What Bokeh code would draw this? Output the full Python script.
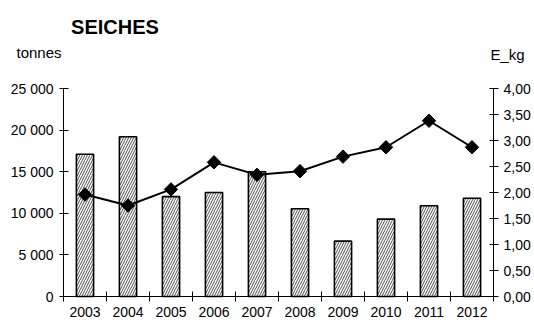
import math
from bokeh.plotting import figure
from bokeh.models import (Range1d, LinearAxis, FixedTicker, Label, ColumnDataSource)
from bokeh.embed import file_html
from bokeh.resources import INLINE

# ---- data ----
years = [2003, 2004, 2005, 2006, 2007, 2008, 2009, 2010, 2011, 2012]
tonnes = [17100, 19200, 12000, 12500, 15000, 10550, 6650, 9300, 10900, 11800]
e_kg = [1.96, 1.75, 2.06, 2.58, 2.34, 2.41, 2.69, 2.87, 3.38, 2.87]
left_ticks = [0, 5000, 10000, 15000, 20000, 25000]
left_labels = ["0", "5 000", "10 000", "15 000", "20 000", "25 000"]
right_ticks = [0, 0.5, 1.0, 1.5, 2.0, 2.5, 3.0, 3.5, 4.0]
right_labels = ["0,00", "0,50", "1,00", "1,50", "2,00", "2,50", "3,00", "3,50", "4,00"]
title_text = "SEICHES"
left_unit = "tonnes"
right_unit = "E_kg"

FONT = "Liberation Sans"
W, H = 534, 322
# plot area in pixels (axes drawn at fixed locations inside a full-canvas frame)
PX_L, PX_R, PX_T, PX_B = 63, 493, 88, 296
n = len(years)
Y_MAX = 25000
R_MAX = 4.0

xs = [i + 0.5 for i in range(n)]
xpp = n / (PX_R - PX_L)
ypp = Y_MAX / (PX_B - PX_T)
rpp = R_MAX / (PX_B - PX_T)

x_range = Range1d(-PX_L * xpp, n + (W - PX_R) * xpp)
y_range = Range1d(-(H - PX_B) * ypp, Y_MAX + PX_T * ypp)
r_range = Range1d(-(H - PX_B) * rpp, R_MAX + PX_T * rpp)

src = ColumnDataSource(dict(x=xs, tonnes=tonnes, ekg=e_kg))

p = figure(width=W, height=H, output_backend="svg", toolbar_location=None,
           x_range=x_range, y_range=y_range,
           min_border_left=0, min_border_top=0, min_border_right=0, min_border_bottom=0)
p.outline_line_color = None
p.xgrid.visible = False
p.ygrid.visible = False
p.extra_y_ranges = {"right": r_range}

p.vbar(x="x", top="tonnes", width=0.4, source=src, fill_color="white",
       line_color="black", line_width=1.6, hatch_pattern="/", hatch_color="#222222",
       hatch_scale=5, hatch_weight=0.8)

p.line(x="x", y="ekg", source=src, y_range_name="right", line_color="black", line_width=2)
p.scatter(x="x", y="ekg", source=src, y_range_name="right", marker="square",
          angle=math.pi / 4, size=9.5, fill_color="black", line_color="black")

xa = p.xaxis[0]
xa.fixed_location = 0
xa.bounds = (0, n)
xa.ticker = FixedTicker(ticks=xs, minor_ticks=list(range(n + 1)))
xa.major_label_overrides = {x: str(y) for x, y in zip(xs, years)}
xa.major_tick_in = 0
xa.major_tick_out = 0
xa.minor_tick_in = 5
xa.minor_tick_out = 5
xa.minor_tick_line_color = "black"
xa.axis_line_color = "black"
xa.major_label_text_font = FONT
xa.major_label_text_font_size = "14px"
xa.major_label_text_color = "black"
xa.major_label_standoff = 5

ya = p.yaxis[0]
ya.fixed_location = 0
ya.bounds = (0, Y_MAX)
ya.ticker = FixedTicker(ticks=left_ticks)
ya.major_label_overrides = {t: l for t, l in zip(left_ticks, left_labels)}
ya.major_tick_in = 5
ya.major_tick_out = 4
ya.minor_tick_line_color = None
ya.axis_line_color = "black"
ya.major_tick_line_color = "black"
ya.major_label_text_font = FONT
ya.major_label_text_font_size = "14px"
ya.major_label_text_color = "black"
ya.major_label_standoff = 6

ra = LinearAxis(y_range_name="right", ticker=FixedTicker(ticks=right_ticks))
ra.fixed_location = n
ra.bounds = (0, R_MAX)
ra.major_label_overrides = {t: l for t, l in zip(right_ticks, right_labels)}
ra.major_tick_in = 4
ra.major_tick_out = 5
ra.minor_tick_line_color = None
ra.axis_line_color = "black"
ra.major_tick_line_color = "black"
ra.major_label_text_font = FONT
ra.major_label_text_font_size = "14px"
ra.major_label_text_color = "black"
ra.major_label_standoff = 5
p.add_layout(ra, "right")

# texts above the plot area (data units of the full-canvas frame)
def px_x(px):
    return x_range.start + px * xpp

def px_y(py):
    return y_range.end - py * ypp

p.add_layout(Label(x=px_x(114.5), y=px_y(26), text=title_text,
                   text_font=FONT, text_font_size="20px", text_font_style="bold",
                   text_align="center", text_baseline="middle", text_color="black"))
p.add_layout(Label(x=px_x(16), y=px_y(52), text=left_unit,
                   text_font=FONT, text_font_size="15px",
                   text_align="left", text_baseline="middle", text_color="black"))
p.add_layout(Label(x=px_x(490), y=px_y(54), text=right_unit,
                   text_font=FONT, text_font_size="15px",
                   text_align="left", text_baseline="middle", text_color="black"))

open("out.html", "w").write(file_html(p, INLINE))
